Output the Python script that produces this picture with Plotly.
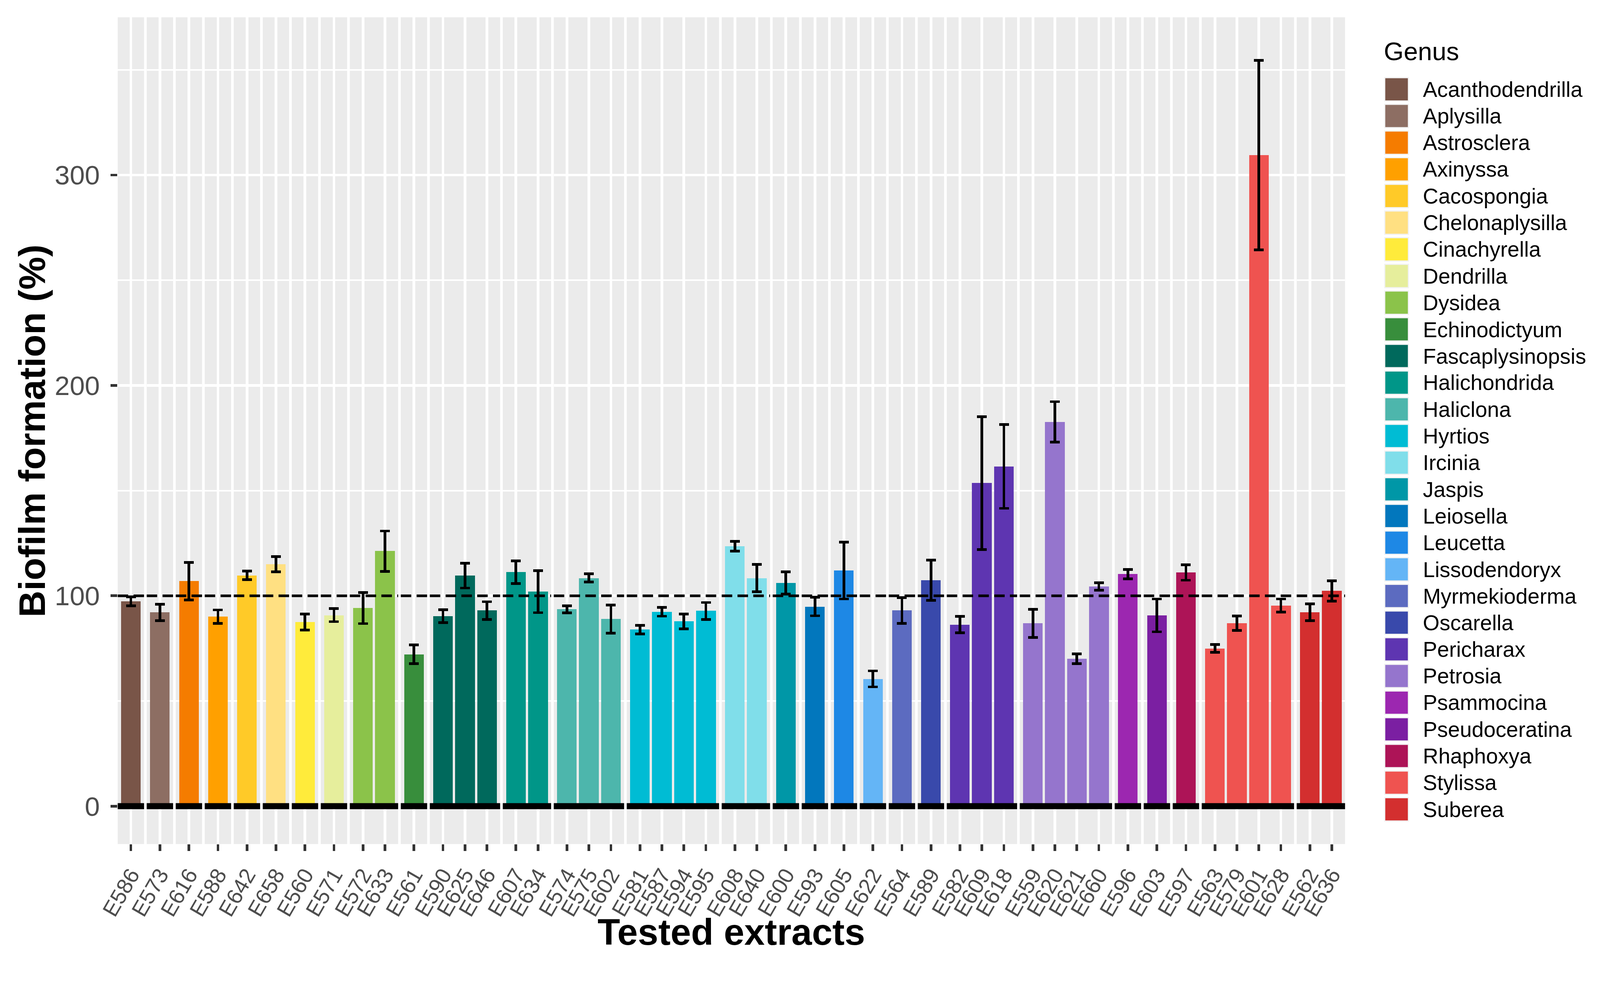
import plotly.graph_objects as go
from plotly.subplots import make_subplots

# ---------------- data ----------------
genera = ["Acanthodendrilla", "Aplysilla", "Astrosclera", "Axinyssa", "Cacospongia",
          "Chelonaplysilla", "Cinachyrella", "Dendrilla", "Dysidea", "Echinodictyum",
          "Fascaplysinopsis", "Halichondrida", "Haliclona", "Hyrtios", "Ircinia",
          "Jaspis", "Leiosella", "Leucetta", "Lissodendoryx", "Myrmekioderma",
          "Oscarella", "Pericharax", "Petrosia", "Psammocina", "Pseudoceratina",
          "Rhaphoxya", "Stylissa", "Suberea"]
genus_colors = ["#795548", "#8D6E63", "#F57C00", "#FFA000", "#FFCA28",
                "#FFE082", "#FFEB3B", "#E6EE9C", "#8BC34A", "#388E3C",
                "#00695C", "#009688", "#4DB6AC", "#00BCD4", "#80DEEA",
                "#0097A7", "#0277BD", "#1E88E5", "#64B5F6", "#5C6BC0",
                "#3949AB", "#5E35B1", "#9575CD", "#9C27B0", "#7B1FA2",
                "#AD1457", "#EF5350", "#D32F2F"]

extracts = ["E586", "E573", "E616", "E588", "E642", "E658", "E560", "E571",
            "E572", "E633", "E561", "E590", "E625", "E646", "E607", "E634",
            "E574", "E575", "E602", "E581", "E587", "E594", "E595", "E608",
            "E640", "E600", "E593", "E605", "E622", "E564", "E589", "E582",
            "E609", "E618", "E559", "E620", "E621", "E660", "E596", "E603",
            "E597", "E563", "E579", "E601", "E628", "E562", "E636"]
extract_genus = ["Acanthodendrilla", "Aplysilla", "Astrosclera", "Axinyssa", "Cacospongia",
                 "Chelonaplysilla", "Cinachyrella", "Dendrilla", "Dysidea", "Dysidea",
                 "Echinodictyum", "Fascaplysinopsis", "Fascaplysinopsis", "Fascaplysinopsis",
                 "Halichondrida", "Halichondrida", "Haliclona", "Haliclona", "Haliclona",
                 "Hyrtios", "Hyrtios", "Hyrtios", "Hyrtios", "Ircinia", "Ircinia",
                 "Jaspis", "Leiosella", "Leucetta", "Lissodendoryx", "Myrmekioderma",
                 "Oscarella", "Pericharax", "Pericharax", "Pericharax",
                 "Petrosia", "Petrosia", "Petrosia", "Petrosia", "Psammocina",
                 "Pseudoceratina", "Rhaphoxya", "Stylissa", "Stylissa", "Stylissa",
                 "Stylissa", "Suberea", "Suberea"]
biofilm = [97.4, 92.1, 106.9, 90.1, 109.7, 115.0, 87.5, 90.8,
           94.2, 121.2, 72.2, 90.3, 109.6, 93.0, 111.2, 102.0,
           93.6, 108.5, 88.9, 83.9, 92.4, 87.8, 92.8, 123.6,
           108.4, 106.1, 94.9, 112.0, 60.5, 93.0, 107.4, 86.3,
           153.6, 161.5, 86.9, 182.7, 70.1, 104.4, 110.3, 90.7,
           111.1, 75.0, 87.0, 309.5, 95.4, 92.2, 102.3]
biofilm_sd = [2.1, 3.9, 8.9, 3.2, 2.0, 3.6, 3.8, 3.1,
              7.4, 9.6, 4.5, 3.1, 5.9, 4.2, 5.4, 10.0,
              1.7, 2.0, 6.7, 2.0, 2.1, 3.5, 4.0, 2.3,
              6.5, 5.3, 4.4, 13.5, 3.8, 6.1, 9.6, 3.9,
              31.6, 19.9, 6.7, 9.6, 2.3, 1.8, 2.2, 7.8,
              3.7, 1.8, 3.4, 45.0, 3.1, 4.0, 4.8]
y_ticks = [0, 100, 200, 300]
y_minor = [50, 150, 250, 350]
reference_level = 100

# ---------------- layout constants (pixels) ----------------
W, H = 4255, 2544
L, R, T, B = 313, 3577, 46, 2244
PW, PH = R - L, B - T
FONT = "Liberation Sans, Arial, Helvetica, sans-serif"
TICK_GREY = "#4D4D4D"
BG = "#EBEBEB"


def px_x(x):
    return (x - L) / PW


def px_y(y):
    return (B - y) / PH


# facets: one panel per genus, widths proportional to bar count (+ expansion)
groups = []
for g in genera:
    idx = [i for i, eg in enumerate(extract_genus) if eg == g]
    groups.append(idx)
ncols = len(genera)
widths = [len(ix) + 0.2 for ix in groups]

fig = make_subplots(rows=1, cols=ncols, shared_yaxes=True,
                    column_widths=widths, horizontal_spacing=7 / PW)

for c, (g, col, ix) in enumerate(zip(genera, genus_colors, groups), start=1):
    xs = [extracts[i] for i in ix]
    fig.add_trace(go.Bar(
        x=xs, y=[biofilm[i] for i in ix], width=0.9,
        marker=dict(color=col, line=dict(width=0)),
        error_y=dict(type="data", array=[biofilm_sd[i] for i in ix],
                     color="black", thickness=7, width=13),
        name=g, showlegend=False,
    ), row=1, col=c)
    n = len(ix)
    fig.update_xaxes(type="category", categoryorder="array", categoryarray=xs,
                     tickmode="array", tickvals=xs, ticktext=xs,
                     range=[-0.6, n - 0.4], row=1, col=c)
    suffix = "" if c == 1 else str(c)
    # dashed reference line at 100 and thick black baseline at 0 (per panel)
    fig.add_shape(type="line", xref=f"x{suffix} domain", yref=f"y{suffix}",
                  x0=0, x1=1, y0=reference_level, y1=reference_level,
                  line=dict(color="black", width=7, dash="28px,14px"))
    fig.add_shape(type="line", xref=f"x{suffix} domain", yref=f"y{suffix}",
                  x0=0, x1=1, y0=0, y1=0,
                  line=dict(color="black", width=16))

fig.update_xaxes(showgrid=True, gridcolor="white", gridwidth=7,
                 zeroline=False, showline=False,
                 ticks="outside", ticklen=18, tickwidth=7, tickcolor="#333333",
                 tickangle=-60, tickfont=dict(family=FONT, size=58, color=TICK_GREY),
                 ticklabelstandoff=6)
fig.update_yaxes(range=[-18, 375], tickvals=y_ticks,
                 showgrid=True, gridcolor="white", gridwidth=7,
                 minor=dict(tickvals=y_minor, showgrid=True, gridcolor="white",
                            gridwidth=3.5, ticks=""),
                 zeroline=False, showline=False, ticks="")
fig.update_yaxes(ticks="outside", ticklen=18, tickwidth=7, tickcolor="#333333",
                 tickfont=dict(family=FONT, size=72, color=TICK_GREY),
                 ticklabelstandoff=14, row=1, col=1)

annotations = [
    dict(text="<b>Tested extracts</b>", xref="paper", yref="paper",
         x=0.5, y=px_y(2478), xanchor="center", yanchor="middle", showarrow=False,
         font=dict(family=FONT, size=98, color="black")),
    dict(text="<b>Biofilm formation (%)</b>", xref="paper", yref="paper",
         x=px_x(85), y=px_y(1146), xanchor="center", yanchor="middle", showarrow=False,
         textangle=-90, font=dict(family=FONT, size=98, color="black")),
    dict(text="Genus", xref="paper", yref="paper",
         x=px_x(3678), y=px_y(136), xanchor="left", yanchor="middle", showarrow=False,
         font=dict(family=FONT, size=68, color="black")),
]

# manual legend (ggplot-like square keys)
key_x0, key_x1 = 3681, 3747
key_top0, key_h, pitch = 205, 65, 70.9
shapes = list(fig.layout.shapes)
for k, (g, col) in enumerate(zip(genera, genus_colors)):
    top = key_top0 + k * pitch
    shapes.append(dict(type="rect", xref="paper", yref="paper",
                       x0=px_x(key_x0 + 1.5), x1=px_x(key_x1 - 1.5),
                       y0=px_y(top + 1.5), y1=px_y(top + key_h - 1.5),
                       fillcolor=col, line=dict(color="#F2F2F2", width=3)))
    annotations.append(dict(text=g, xref="paper", yref="paper",
                            x=px_x(3782), y=px_y(top + key_h / 2),
                            xanchor="left", yanchor="middle", showarrow=False,
                            font=dict(family=FONT, size=57, color="black")))

fig.update_layout(
    width=W, height=H,
    margin=dict(l=L, r=W - R, t=T, b=H - B, pad=0),
    paper_bgcolor="white", plot_bgcolor=BG,
    font=dict(family=FONT, color="black"),
    bargap=0, showlegend=False,
    shapes=shapes, annotations=annotations,
)

fit_js = """
document.documentElement.style.overflow='hidden';
document.body.style.margin='0';
document.body.style.overflow='hidden';
var gd = document.getElementById('{plot_id}');
var s = Math.min(window.innerWidth / %d, window.innerHeight / %d);
if (s < 1) { gd.style.transformOrigin = '0 0'; gd.style.transform = 'scale(' + s + ')'; }
""" % (W, H)

fig.write_html("out.html", post_script=fit_js, config={"displayModeBar": False})
